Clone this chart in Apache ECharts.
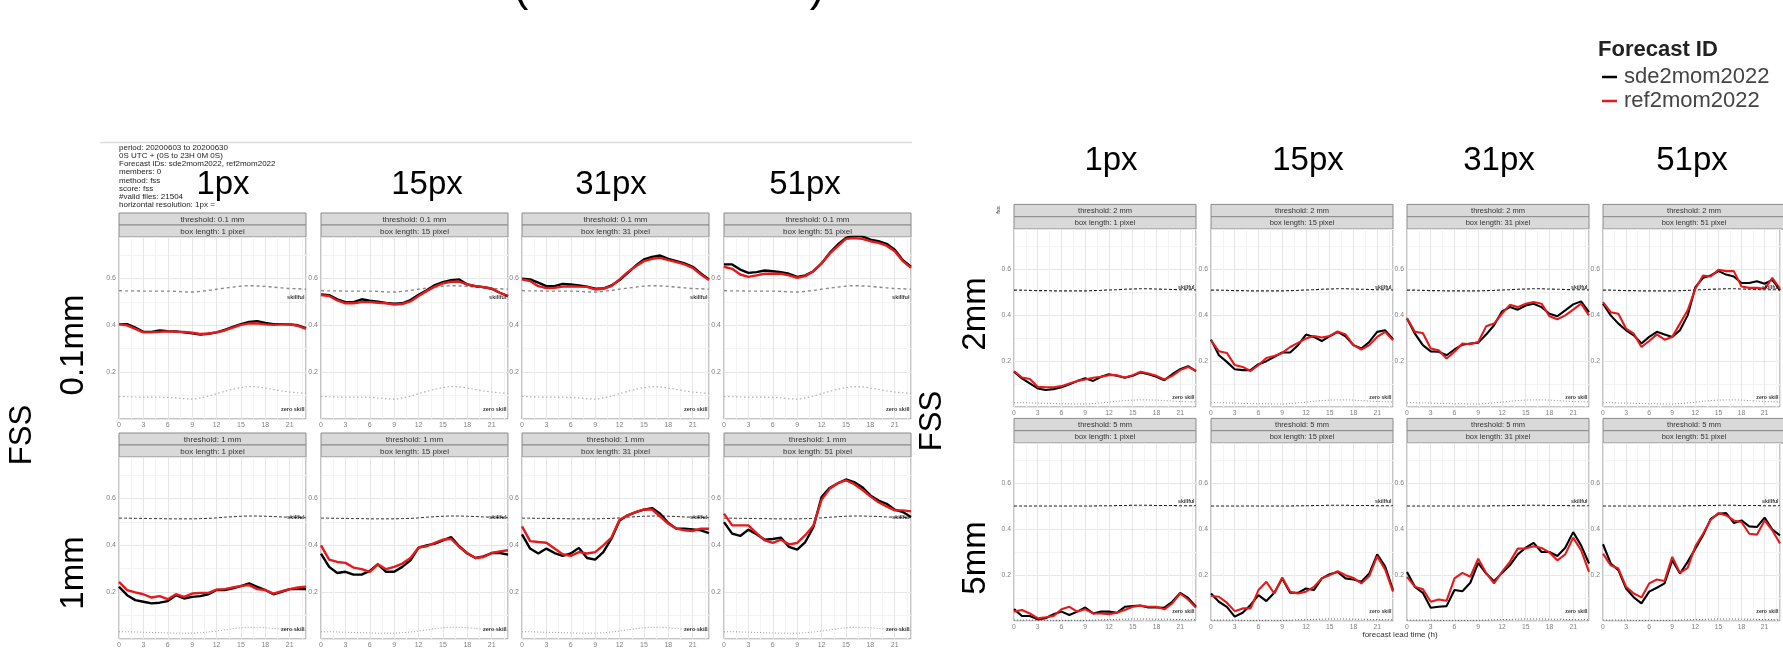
<!DOCTYPE html>
<html>
<head>
<meta charset="utf-8">
<script src="https://cdn.jsdelivr.net/npm/echarts@6/dist/echarts.min.js"></script>
<style>
  html, body { margin: 0; padding: 0; background: #fff; }
  #chart { width: 1783px; height: 649px; }
</style>
</head>
<body>
<div id="chart"></div>
<script>
// ---- data ---------------------------------------------------------------
const hours = [0,1,2,3,4,5,6,7,8,9,10,11,12,13,14,15,16,17,18,19,20,21,22,23];
const xTickLabels = [0,3,6,9,12,15,18,21];
const yTickLabels = [0.2,0.4,0.6];
const boxLengths = [1,15,31,51];
const boxTitles = ['1px','15px','31px','51px'];
const leftThresholds = ['0.1','1'];
const rightThresholds = ['2','5'];
const leftRowTitles = ['0.1mm','1mm'];
const rightRowTitles = ['2mm','5mm'];
const forecastIds = ['sde2mom2022','ref2mom2022'];
const infoLines = [
  'period: 20200603 to 20200630',
  '0S UTC + (0S to 23H 0M 0S)',
  'Forecast IDs: sde2mom2022, ref2mom2022',
  'members: 0',
  'method: fss',
  'score: fss',
  '#valid files: 21504',
  'horizontal resolution: 1px ='
];

// threshold 0.1 mm
const sde_t01_b1  = [0.405,0.405,0.39,0.372,0.372,0.378,0.375,0.374,0.37,0.366,0.36,0.364,0.37,0.38,0.393,0.405,0.414,0.418,0.41,0.405,0.405,0.404,0.4,0.388];
const ref_t01_b1  = [0.405,0.4,0.385,0.37,0.37,0.372,0.374,0.372,0.372,0.368,0.363,0.365,0.37,0.378,0.39,0.402,0.408,0.408,0.404,0.402,0.404,0.404,0.398,0.385];
const sde_t01_b15 = [0.532,0.529,0.511,0.499,0.499,0.511,0.505,0.501,0.496,0.492,0.494,0.508,0.53,0.55,0.572,0.584,0.593,0.596,0.574,0.567,0.563,0.556,0.539,0.525];
const ref_t01_b15 = [0.529,0.525,0.506,0.494,0.494,0.499,0.499,0.496,0.494,0.489,0.491,0.502,0.525,0.546,0.565,0.579,0.586,0.586,0.574,0.567,0.563,0.557,0.539,0.525];
const sde_t01_b31 = [0.599,0.596,0.582,0.567,0.567,0.577,0.574,0.57,0.565,0.556,0.557,0.57,0.593,0.624,0.655,0.681,0.692,0.698,0.684,0.674,0.664,0.65,0.621,0.596];
const ref_t01_b31 = [0.596,0.589,0.567,0.559,0.56,0.565,0.567,0.565,0.564,0.553,0.556,0.567,0.596,0.627,0.652,0.674,0.684,0.688,0.678,0.67,0.66,0.645,0.617,0.593];
const sde_t01_b51 = [0.66,0.66,0.638,0.624,0.627,0.634,0.631,0.627,0.62,0.607,0.613,0.631,0.664,0.709,0.745,0.773,0.783,0.78,0.766,0.759,0.748,0.723,0.678,0.65];
const ref_t01_b51 = [0.65,0.641,0.617,0.607,0.613,0.62,0.62,0.62,0.613,0.603,0.61,0.631,0.664,0.706,0.738,0.769,0.773,0.769,0.759,0.752,0.74,0.716,0.674,0.645];

// threshold 1 mm
const sde_t1_b1  = [0.223,0.187,0.166,0.159,0.152,0.155,0.162,0.187,0.173,0.18,0.183,0.191,0.209,0.209,0.216,0.226,0.237,0.223,0.209,0.191,0.201,0.213,0.213,0.213];
const ref_t1_b1  = [0.244,0.209,0.199,0.191,0.177,0.183,0.17,0.191,0.18,0.194,0.197,0.197,0.211,0.213,0.22,0.227,0.23,0.213,0.209,0.194,0.204,0.213,0.22,0.223];
const sde_t1_b15 = [0.365,0.308,0.282,0.287,0.275,0.275,0.291,0.319,0.287,0.287,0.308,0.336,0.39,0.4,0.407,0.421,0.435,0.396,0.365,0.346,0.353,0.367,0.367,0.36];
const ref_t1_b15 = [0.4,0.339,0.329,0.325,0.305,0.298,0.287,0.319,0.298,0.308,0.322,0.346,0.39,0.396,0.41,0.424,0.428,0.393,0.367,0.346,0.35,0.367,0.374,0.379];
const sde_t1_b31 = [0.447,0.386,0.365,0.386,0.367,0.355,0.365,0.389,0.346,0.339,0.371,0.428,0.506,0.528,0.542,0.552,0.559,0.535,0.495,0.471,0.471,0.468,0.464,0.452];
const ref_t1_b31 = [0.481,0.418,0.414,0.411,0.386,0.362,0.355,0.371,0.365,0.371,0.4,0.433,0.509,0.528,0.542,0.553,0.553,0.523,0.492,0.471,0.464,0.461,0.471,0.471];
const sde_t1_b51 = [0.499,0.45,0.44,0.467,0.447,0.424,0.427,0.433,0.393,0.382,0.414,0.478,0.606,0.645,0.665,0.681,0.67,0.648,0.613,0.591,0.577,0.552,0.542,0.521];
const ref_t1_b51 = [0.535,0.485,0.485,0.485,0.452,0.421,0.41,0.424,0.404,0.41,0.443,0.485,0.594,0.641,0.665,0.677,0.662,0.637,0.609,0.584,0.566,0.549,0.549,0.545];

// threshold 2 mm
const sde_t2_b1  = [0.154,0.125,0.103,0.081,0.074,0.078,0.086,0.099,0.113,0.125,0.114,0.132,0.143,0.136,0.128,0.136,0.151,0.143,0.132,0.117,0.143,0.165,0.178,0.157];
const ref_t2_b1  = [0.157,0.129,0.122,0.088,0.086,0.086,0.091,0.103,0.114,0.12,0.128,0.132,0.139,0.139,0.129,0.139,0.154,0.146,0.136,0.12,0.136,0.161,0.175,0.158];
const sde_t2_b15 = [0.294,0.226,0.197,0.165,0.161,0.161,0.187,0.2,0.219,0.238,0.238,0.27,0.316,0.306,0.288,0.309,0.328,0.309,0.27,0.255,0.284,0.328,0.335,0.296];
const ref_t2_b15 = [0.291,0.243,0.236,0.183,0.175,0.157,0.183,0.214,0.223,0.236,0.262,0.28,0.299,0.31,0.303,0.31,0.33,0.317,0.27,0.251,0.27,0.306,0.328,0.291];
const sde_t2_b31 = [0.386,0.32,0.27,0.243,0.241,0.226,0.251,0.272,0.277,0.281,0.316,0.357,0.417,0.436,0.425,0.443,0.451,0.436,0.407,0.396,0.422,0.448,0.461,0.414];
const ref_t2_b31 = [0.388,0.328,0.323,0.255,0.248,0.212,0.241,0.277,0.274,0.284,0.352,0.364,0.407,0.446,0.436,0.451,0.458,0.451,0.396,0.383,0.4,0.425,0.451,0.4];
const sde_t2_b51 = [0.451,0.4,0.364,0.335,0.313,0.277,0.306,0.328,0.317,0.306,0.335,0.4,0.523,0.564,0.574,0.593,0.578,0.57,0.541,0.541,0.549,0.538,0.555,0.51];
const ref_t2_b51 = [0.458,0.414,0.407,0.342,0.32,0.262,0.288,0.317,0.294,0.306,0.364,0.422,0.516,0.574,0.57,0.599,0.593,0.593,0.526,0.52,0.52,0.516,0.564,0.516];

// threshold 5 mm
const sde_t5_b1  = [0.052,0.022,0.022,0.007,0.012,0.03,0.041,0.026,0.041,0.059,0.033,0.041,0.041,0.036,0.062,0.065,0.067,0.059,0.059,0.058,0.084,0.123,0.101,0.062];
const ref_t5_b1  = [0.041,0.048,0.033,0.012,0.016,0.022,0.051,0.062,0.041,0.051,0.033,0.033,0.03,0.036,0.048,0.062,0.067,0.062,0.062,0.051,0.077,0.12,0.094,0.058];
const sde_t5_b15 = [0.12,0.084,0.062,0.019,0.036,0.07,0.113,0.087,0.123,0.186,0.123,0.123,0.142,0.135,0.186,0.204,0.214,0.186,0.181,0.171,0.207,0.291,0.239,0.135];
const ref_t5_b15 = [0.109,0.106,0.08,0.043,0.055,0.055,0.135,0.171,0.12,0.19,0.128,0.12,0.128,0.149,0.186,0.2,0.217,0.2,0.188,0.164,0.196,0.283,0.225,0.128];
const sde_t5_b31 = [0.214,0.149,0.123,0.058,0.062,0.065,0.135,0.13,0.167,0.254,0.207,0.174,0.21,0.243,0.291,0.32,0.341,0.301,0.301,0.284,0.32,0.388,0.33,0.251];
const ref_t5_b31 = [0.193,0.149,0.139,0.084,0.094,0.088,0.186,0.21,0.193,0.272,0.21,0.164,0.214,0.258,0.316,0.316,0.326,0.319,0.299,0.265,0.291,0.364,0.309,0.214];
const sde_t5_b51 = [0.335,0.251,0.222,0.142,0.103,0.077,0.128,0.145,0.164,0.265,0.207,0.258,0.316,0.374,0.446,0.468,0.471,0.428,0.439,0.413,0.41,0.451,0.399,0.374];
const ref_t5_b51 = [0.294,0.243,0.229,0.149,0.12,0.103,0.164,0.181,0.175,0.28,0.21,0.232,0.326,0.381,0.442,0.471,0.461,0.439,0.432,0.381,0.377,0.439,0.396,0.338];

// reference levels: "skillful" and "zero skill" per threshold
const skillful_t01  = [0.548,0.547,0.547,0.546,0.546,0.546,0.546,0.545,0.543,0.542,0.545,0.549,0.554,0.559,0.563,0.567,0.569,0.568,0.566,0.563,0.56,0.557,0.556,0.554];
const zeroSkill_t01 = [0.096,0.095,0.094,0.093,0.093,0.093,0.092,0.09,0.087,0.085,0.09,0.098,0.108,0.118,0.127,0.134,0.138,0.137,0.132,0.126,0.12,0.115,0.112,0.109];
const skillful_t1   = [0.516,0.516,0.515,0.515,0.514,0.514,0.513,0.513,0.513,0.513,0.514,0.515,0.517,0.52,0.522,0.524,0.525,0.525,0.524,0.523,0.521,0.52,0.519,0.518];
const zeroSkill_t1  = [0.031,0.031,0.03,0.029,0.028,0.027,0.026,0.025,0.025,0.025,0.027,0.03,0.034,0.039,0.044,0.048,0.05,0.05,0.048,0.045,0.042,0.04,0.038,0.037];
const skillful_t2   = [0.51,0.51,0.509,0.508,0.508,0.507,0.507,0.507,0.507,0.507,0.508,0.509,0.511,0.512,0.514,0.515,0.516,0.516,0.515,0.514,0.513,0.512,0.512,0.511];
const zeroSkill_t2  = [0.019,0.019,0.018,0.017,0.016,0.015,0.014,0.014,0.013,0.013,0.015,0.018,0.021,0.025,0.028,0.03,0.031,0.031,0.03,0.028,0.026,0.024,0.023,0.022];
const skillful_t5   = [0.502,0.502,0.502,0.502,0.502,0.502,0.502,0.502,0.502,0.502,0.502,0.503,0.503,0.504,0.504,0.505,0.505,0.505,0.504,0.504,0.504,0.503,0.503,0.503];
const zeroSkill_t5  = [0.004,0.004,0.004,0.004,0.003,0.003,0.003,0.003,0.003,0.003,0.004,0.005,0.006,0.007,0.008,0.009,0.009,0.009,0.008,0.008,0.007,0.006,0.006,0.005];

// ---- layout -------------------------------------------------------------
const FONT = '"Liberation Sans", Arial, Helvetica, sans-serif';
const Y_MAX = 0.777;

const blocks = [
  {
    lefts: [119, 321, 522, 724], width: 187, tops: [237, 457], height: 182,
    stripH: 12, stripFont: 8, tickFont: 7, lineWidth: 2.4, labelFont: 5.5,
    thresholds: leftThresholds,
    sde: [[sde_t01_b1, sde_t01_b15, sde_t01_b31, sde_t01_b51], [sde_t1_b1, sde_t1_b15, sde_t1_b31, sde_t1_b51]],
    ref: [[ref_t01_b1, ref_t01_b15, ref_t01_b31, ref_t01_b51], [ref_t1_b1, ref_t1_b15, ref_t1_b31, ref_t1_b51]],
    skillful: [skillful_t01, skillful_t1],
    zero: [zeroSkill_t01, zeroSkill_t1],
    skillStyle: [
      { color: '#8a8a8a', type: [3, 3], width: 1.4 },
      { color: '#333333', type: [3, 2], width: 1 }
    ],
    zeroStyle: [
      { color: '#b0b0b0', type: [1.5, 2.5], width: 1.2 },
      { color: '#9a9a9a', type: [1, 2], width: 1 }
    ]
  },
  {
    lefts: [1014, 1211, 1407, 1603], width: 182, tops: [229, 443], height: 178,
    stripH: 12.3, stripFont: 7.5, tickFont: 6.8, lineWidth: 2.1, labelFont: 5.2,
    thresholds: rightThresholds,
    sde: [[sde_t2_b1, sde_t2_b15, sde_t2_b31, sde_t2_b51], [sde_t5_b1, sde_t5_b15, sde_t5_b31, sde_t5_b51]],
    ref: [[ref_t2_b1, ref_t2_b15, ref_t2_b31, ref_t2_b51], [ref_t5_b1, ref_t5_b15, ref_t5_b31, ref_t5_b51]],
    skillful: [skillful_t2, skillful_t5],
    zero: [zeroSkill_t2, zeroSkill_t5],
    skillStyle: [
      { color: '#222222', type: [3, 2], width: 1.1 },
      { color: '#222222', type: [3, 2], width: 1.1 }
    ],
    zeroStyle: [
      { color: '#8a8a8a', type: [1, 2], width: 1 },
      { color: '#555555', type: [1, 2], width: 1 }
    ]
  }
];

const grids = [], xAxes = [], yAxes = [], series = [], graphics = [];

const pairs = arr => hours.map((h, k) => [h, arr[k]]);
const near = (list, v) => list.some(t => Math.abs(t - v) < 1e-9);

blocks.forEach(b => {
  for (let r = 0; r < 2; r++) {
    for (let c = 0; c < 4; c++) {
      const idx = grids.length;
      const left = b.lefts[c], top = b.tops[r];
      grids.push({
        left, top, width: b.width, height: b.height,
        show: true, backgroundColor: '#ffffff', borderColor: '#8a8a8a', borderWidth: 1
      });
      xAxes.push({
        gridIndex: idx, type: 'value', min: 0, max: 23, interval: 1.5,
        axisLine: { show: false }, axisTick: { show: false },
        axisLabel: {
          fontSize: b.tickFont, color: '#7f7f7f', margin: 3, fontFamily: FONT,
          formatter: v => near(xTickLabels, v) ? String(v) : ''
        },
        splitLine: { show: true, lineStyle: { color: ['#e6e6e6', '#f3f3f3'], width: 1 } }
      });
      yAxes.push({
        gridIndex: idx, type: 'value', min: 0, max: Y_MAX, interval: 0.1,
        axisLine: { show: false }, axisTick: { show: false },
        axisLabel: {
          fontSize: b.tickFont, color: '#7f7f7f', margin: 3, fontFamily: FONT,
          formatter: v => near(yTickLabels, v) ? v.toFixed(1) : ''
        },
        splitLine: { show: true, lineStyle: { color: ['#e6e6e6', '#f3f3f3'], width: 1 } }
      });

      // reference levels
      series.push({
        type: 'line', xAxisIndex: idx, yAxisIndex: idx, data: pairs(b.skillful[r]),
        symbol: 'none', smooth: 0.3, silent: true, z: 2, lineStyle: b.skillStyle[r]
      });
      series.push({
        type: 'line', xAxisIndex: idx, yAxisIndex: idx, data: pairs(b.zero[r]),
        symbol: 'none', smooth: 0.3, silent: true, z: 2, lineStyle: b.zeroStyle[r]
      });
      // forecasts
      series.push({
        name: forecastIds[0], type: 'line', xAxisIndex: idx, yAxisIndex: idx,
        data: pairs(b.sde[r][c]), symbol: 'none', z: 3,
        itemStyle: { color: '#000000' },
        lineStyle: { color: '#000000', width: b.lineWidth }
      });
      series.push({
        name: forecastIds[1], type: 'line', xAxisIndex: idx, yAxisIndex: idx,
        data: pairs(b.ref[r][c]), symbol: 'none', z: 4,
        itemStyle: { color: '#e41a1c' },
        lineStyle: { color: '#e41a1c', width: b.lineWidth }
      });
      // annotations at the right edge
      series.push({
        type: 'scatter', xAxisIndex: idx, yAxisIndex: idx, silent: true, z: 5,
        symbolSize: 1, itemStyle: { color: 'rgba(0,0,0,0)' },
        label: {
          show: true, position: 'left', distance: 1, fontSize: b.labelFont,
          fontWeight: 'bold', color: '#000', fontFamily: FONT
        },
        data: [
          { value: [23, 0.52], label: { formatter: 'skillful' } },
          { value: [23, 0.04], label: { formatter: 'zero skill' } }
        ]
      });

      // facet strips
      const s1 = top - 2 * b.stripH, s2 = top - b.stripH;
      const stripTexts = ['threshold: ' + b.thresholds[r] + ' mm', 'box length: ' + boxLengths[c] + ' pixel'];
      [s1, s2].forEach((sy, k) => {
        graphics.push({
          type: 'rect', shape: { x: left, y: sy, width: b.width, height: b.stripH },
          style: { fill: '#d9d9d9', stroke: '#8a8a8a', lineWidth: 1 }
        });
        graphics.push({
          type: 'text', x: left + b.width / 2, y: sy + b.stripH / 2 + 0.5,
          style: { text: stripTexts[k], font: b.stripFont + 'px ' + FONT, fill: '#333333', align: 'center', verticalAlign: 'middle' }
        });
      });
    }
  }
});

// column and row headings
const bigFont = '33px ' + FONT;
const leftTitleX = [223, 427, 611, 805];
const rightTitleX = [1111, 1308, 1499, 1692];
boxTitles.forEach((t, i) => {
  graphics.push({ type: 'text', x: leftTitleX[i], y: 185, z: 10,
    style: { text: t, font: bigFont, fill: '#000', align: 'center', verticalAlign: 'middle' } });
  graphics.push({ type: 'text', x: rightTitleX[i], y: 161, z: 10,
    style: { text: t, font: bigFont, fill: '#000', align: 'center', verticalAlign: 'middle' } });
});
const rowLabel = (text, x, y, size) => ({
  type: 'text', x, y, rotation: Math.PI / 2, z: 10,
  style: { text, font: size + 'px ' + FONT, fill: '#000', align: 'center', verticalAlign: 'middle' }
});
graphics.push(rowLabel(leftRowTitles[0], 74, 345, 33));
graphics.push(rowLabel(leftRowTitles[1], 74, 573, 33));
graphics.push(rowLabel('FSS', 22, 435, 31));
graphics.push(rowLabel(rightRowTitles[0], 976, 314, 33));
graphics.push(rowLabel(rightRowTitles[1], 976, 558, 33));
graphics.push(rowLabel('FSS', 932, 421, 31));

// header block, rule and partially visible title parentheses
graphics.push({ type: 'line', shape: { x1: 100, y1: 142.5, x2: 912, y2: 142.5 },
  style: { stroke: '#dcdcdc', lineWidth: 1.5 } });
graphics.push({ type: 'text', x: 119, y: 143.5,
  style: { text: infoLines.join('\n'), font: '8px ' + FONT, lineHeight: 8.2, fill: '#222', align: 'left', verticalAlign: 'top' } });
graphics.push({ type: 'text', x: 521, y: 11,
  style: { text: '(', font: '44px ' + FONT, fill: '#000', align: 'center', verticalAlign: 'bottom' } });
graphics.push({ type: 'text', x: 817, y: 11,
  style: { text: ')', font: '44px ' + FONT, fill: '#000', align: 'center', verticalAlign: 'bottom' } });

// small axis titles of the right block
graphics.push({ type: 'text', x: 998, y: 210, rotation: Math.PI / 2,
  style: { text: 'fss', font: '6px ' + FONT, fill: '#333', align: 'center', verticalAlign: 'middle' } });
graphics.push({ type: 'text', x: 1400, y: 635,
  style: { text: 'forecast lead time (h)', font: '8px ' + FONT, fill: '#333', align: 'center', verticalAlign: 'middle' } });

// legend title
graphics.push({ type: 'text', x: 1598, y: 50,
  style: { text: 'Forecast ID', font: 'bold 22px ' + FONT, fill: '#222', align: 'left', verticalAlign: 'middle' } });

const chart = echarts.init(document.getElementById('chart'), null, { renderer: 'canvas' });
chart.setOption({
  animation: false,
  backgroundColor: '#ffffff',
  grid: grids,
  xAxis: xAxes,
  yAxis: yAxes,
  legend: {
    data: forecastIds, orient: 'vertical', left: 1597, top: 61,
    icon: 'rect', itemWidth: 15, itemHeight: 2.5, itemGap: 2,
    selectedMode: false,
    textStyle: { fontSize: 22, color: '#444', fontFamily: FONT, padding: [0, 0, 0, 2] }
  },
  series,
  graphic: graphics
});
</script>
</body>
</html>
